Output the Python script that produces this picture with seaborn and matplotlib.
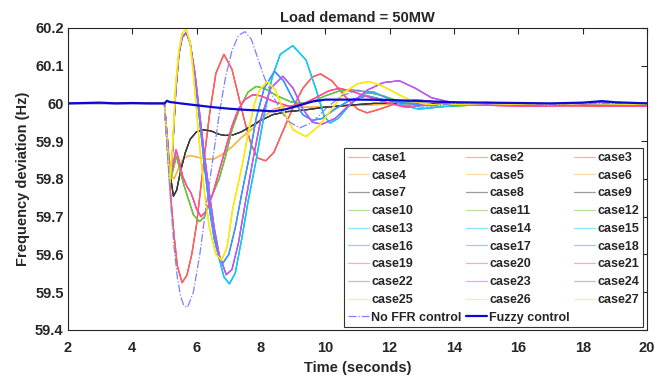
"""Frequency response after a 50 MW load step: 27 FFR cases vs. no FFR vs. fuzzy control.

Curves are read off the reference figure (group of 3 cases share one trace).
"""
import matplotlib
matplotlib.use("Agg")
import matplotlib.pyplot as plt
import seaborn as sns
from matplotlib.ticker import FuncFormatter

TITLE = "Load demand = 50MW"
X_LABEL = "Time (seconds)"
Y_LABEL = "Frequency deviation (Hz)"
X_TICKS = [2, 4, 6, 8, 10, 12, 14, 16, 18, 20]
Y_TICKS = [59.4, 59.5, 59.6, 59.7, 59.8, 59.9, 60.0, 60.1, 60.2]

CASE_NAMES = [f"case{i}" for i in range(1, 28)]
GROUP_COLORS = ["#ff5f5f", "#ffb54d", "#3a3a3a", "#6cc43a", "#14c8f5",
                "#3d94ff", "#ff4aa0", "#b65cf0", "#fbe90a"]

# case1-3 (red)
RED_T = [2, 5.0, 5.1, 5.2, 5.3, 5.4, 5.55, 5.7, 5.85, 6.0, 6.2, 6.4, 6.6, 6.85, 7.1, 7.3,
         7.5, 7.7, 7.9, 8.15, 8.4, 8.7, 9.0, 9.3, 9.6, 9.85, 10.2, 10.6, 11.0, 11.3, 11.7,
         12.2, 12.8, 13.5, 14.5, 15.5, 17, 18.5, 20]
RED_F = [60.0, 60.0, 59.87, 59.75, 59.65, 59.57, 59.525, 59.545, 59.6, 59.68, 59.83, 59.97,
         60.08, 60.13, 60.09, 60.02, 59.95, 59.89, 59.855, 59.848, 59.87, 59.93, 59.99,
         60.04, 60.07, 60.078, 60.06, 60.02, 59.985, 59.975, 59.985, 60.0, 60.01, 60.003,
         59.995, 59.998, 59.995, 59.992, 59.993]
# case4-6 (orange)
ORANGE_T = [2, 5.0, 5.1, 5.2, 5.3, 5.45, 5.6, 5.78, 6.0, 6.3, 6.55, 6.8, 7.1, 7.4, 7.7,
            8.0, 8.4, 8.8, 9.3, 10, 11, 12, 13, 15, 17, 20]
ORANGE_F = [60.0, 60.0, 59.88, 59.81, 59.8, 59.83, 59.855, 59.862, 59.858, 59.852, 59.853,
            59.865, 59.885, 59.91, 59.93, 59.96, 59.985, 59.993, 59.99, 59.99, 59.995,
            59.998, 60.0, 59.998, 59.997, 59.998]
# case7-9 (black)
BLACK_T = [2, 5.0, 5.1, 5.2, 5.28, 5.38, 5.5, 5.65, 5.8, 6.0, 6.2, 6.45, 6.7, 6.9, 7.15,
           7.4, 7.7, 8.0, 8.36, 8.8, 9.4, 10, 10.7, 11.5, 12.5, 14, 16, 18, 20]
BLACK_F = [60.0, 60.0, 59.88, 59.8, 59.754, 59.77, 59.82, 59.87, 59.905, 59.925, 59.93,
           59.927, 59.918, 59.915, 59.917, 59.925, 59.94, 59.955, 59.97, 59.978, 59.983,
           59.99, 59.995, 60.0, 60.0, 59.998, 59.998, 59.997, 59.998]
# case10-12 (green)
GREEN_T = [2, 5.0, 5.1, 5.2, 5.3, 5.37, 5.45, 5.6, 5.75, 5.9, 6.09, 6.25, 6.45, 6.7, 6.9,
           7.1, 7.35, 7.6, 7.85, 8.1, 8.5, 8.9, 9.2, 9.6, 10.0, 10.4, 10.8, 11.3, 11.8,
           12.3, 13, 14, 15, 16.5, 18, 20]
GREEN_F = [60.0, 60.0, 59.9, 59.8, 59.835, 59.86, 59.835, 59.785, 59.745, 59.705, 59.687,
           59.7, 59.75, 59.8, 59.86, 59.93, 59.99, 60.03, 60.045, 60.04, 60.02, 60.005,
           60.0, 60.005, 60.02, 60.032, 60.036, 60.03, 60.02, 60.005, 59.995, 59.993,
           59.997, 59.995, 59.997, 59.995]
# case13-15 (cyan)
CYAN_T = [2, 5.0, 5.08, 5.17, 5.25, 5.35, 5.45, 5.55, 5.68, 5.8, 5.95, 6.1, 6.25, 6.4,
          6.55, 6.7, 6.85, 7.02, 7.2, 7.4, 7.6, 7.85, 8.1, 8.35, 8.6, 8.99, 9.4, 9.7, 9.97,
          10.15, 10.4, 10.8, 11.2, 11.5, 11.9, 12.4, 12.9, 13.5, 14.5, 15.5, 17, 18.5, 20]
CYAN_F = [60.0, 60.0, 59.9, 59.8, 59.87, 60.03, 60.13, 60.175, 60.187, 60.16, 60.07,
          59.96, 59.85, 59.75, 59.66, 59.59, 59.54, 59.522, 59.55, 59.64, 59.74, 59.85,
          59.97, 60.07, 60.13, 60.153, 60.115, 60.04, 59.965, 59.948, 59.96, 60.0, 60.025,
          60.03, 60.015, 59.995, 59.985, 59.99, 59.998, 59.995, 59.998, 59.997, 59.998]
# case16-18 (blue)
BLUE_T = [2, 5.0, 5.08, 5.17, 5.25, 5.35, 5.45, 5.55, 5.68, 5.8, 5.95, 6.1, 6.25, 6.4,
          6.55, 6.7, 6.82, 7.0, 7.2, 7.4, 7.64, 7.85, 8.1, 8.42, 8.7, 9.0, 9.3, 9.6, 9.9,
          10.3, 10.8, 11.3, 11.8, 12.5, 13.5, 15, 17, 20]
BLUE_F = [60.0, 60.0, 59.9, 59.8, 59.87, 60.03, 60.13, 60.175, 60.188, 60.16, 60.07,
          59.95, 59.83, 59.72, 59.64, 59.59, 59.577, 59.6, 59.67, 59.76, 59.86, 59.96,
          60.04, 60.085, 60.06, 60.01, 59.97, 59.955, 59.96, 59.985, 60.01, 60.02, 60.01,
          60.0, 59.995, 60.0, 59.997, 60.0]
# case19-21 (pink)
PINK_T = [2, 5.0, 5.1, 5.16, 5.25, 5.36, 5.45, 5.57, 5.7, 5.83, 6.0, 6.14, 6.3, 6.5, 6.7,
          6.9, 7.1, 7.3, 7.5, 7.75, 8.0, 8.4, 8.88, 9.3, 9.7, 10.1, 10.44, 10.9, 11.4, 12,
          12.5, 13, 14, 15, 16.5, 18, 20]
PINK_F = [60.0, 60.0, 59.9, 59.81, 59.83, 59.877, 59.85, 59.806, 59.78, 59.762, 59.72,
          59.7, 59.715, 59.76, 59.82, 59.88, 59.94, 59.985, 60.01, 60.023, 60.02, 60.005,
          59.992, 59.998, 60.015, 60.033, 60.04, 60.03, 60.015, 60.0, 59.99, 59.995, 60.0,
          59.995, 59.992, 59.995, 59.993]
# case22-24 (purple)
PURPLE_T = [2, 5.0, 5.08, 5.17, 5.25, 5.35, 5.45, 5.55, 5.68, 5.8, 5.95, 6.1, 6.25, 6.4,
            6.55, 6.7, 6.92, 7.1, 7.3, 7.5, 7.75, 8.0, 8.3, 8.68, 9.0, 9.3, 9.6, 9.9, 10.3,
            10.8, 11.3, 11.8, 12.3, 12.8, 13.3, 13.8, 14.5, 15.5, 17, 18.5, 20]
PURPLE_F = [60.0, 60.0, 59.9, 59.8, 59.87, 60.03, 60.13, 60.175, 60.186, 60.16, 60.08,
            59.97, 59.86, 59.76, 59.67, 59.6, 59.546, 59.56, 59.63, 59.73, 59.85, 59.96,
            60.04, 60.072, 60.04, 59.985, 59.95, 59.945, 59.96, 60.0, 60.035, 60.055, 60.06,
            60.04, 60.015, 60.005, 59.998, 59.995, 59.996, 60.002, 60.0]
# case25-27 (yellow)
YELLOW_T = [2, 5.0, 5.08, 5.17, 5.25, 5.35, 5.45, 5.55, 5.68, 5.8, 5.9, 6.0, 6.1, 6.25,
            6.4, 6.6, 6.78, 6.95, 7.12, 7.3, 7.45, 7.6, 7.8, 7.95, 8.2, 8.45, 8.7, 9.0, 9.4,
            9.8, 10.2, 10.6, 11.0, 11.37, 11.8, 12.2, 12.6, 13.0, 13.5, 14, 15, 16, 17, 18, 20]
YELLOW_F = [60.0, 60.0, 59.9, 59.79, 59.88, 60.05, 60.14, 60.185, 60.197, 60.16, 60.08,
            59.98, 59.88, 59.76, 59.67, 59.6, 59.585, 59.62, 59.72, 59.79, 59.85, 59.92,
            60.0, 60.035, 60.058, 60.035, 59.98, 59.93, 59.912, 59.94, 59.985, 60.03, 60.052,
            60.058, 60.045, 60.027, 60.01, 60.0, 59.995, 59.998, 60.0, 59.998, 59.997, 60.0,
            59.998]

NOFFR_T = [2, 5.0, 5.1, 5.2, 5.3, 5.4, 5.5, 5.6, 5.72, 5.9, 6.1, 6.3, 6.5, 6.7, 6.9, 7.1,
           7.3, 7.5, 7.7, 7.9, 8.1, 8.3, 8.5, 8.7, 8.9, 9.2, 9.6, 10.0, 10.5, 11.0, 11.5,
           12, 12.5, 13, 14, 15, 16, 17, 18, 20]
NOFFR_F = [60.0, 60.0, 59.86, 59.73, 59.62, 59.54, 59.49, 59.465, 59.46, 59.5, 59.6, 59.73,
           59.85, 59.97, 60.07, 60.14, 60.18, 60.19, 60.17, 60.12, 60.07, 60.03, 60.0,
           59.97, 59.95, 59.935, 59.95, 59.985, 60.02, 60.035, 60.03, 60.01, 59.995, 59.99,
           60.0, 60.003, 60.0, 59.998, 60.0, 60.0]
FUZZY_T = [2, 2.5, 3, 3.5, 4, 4.5, 5.0, 5.08, 5.15, 5.5, 6.0, 6.5, 7.0, 7.5, 8.0, 8.4, 8.8,
           9.2, 9.6, 10.0, 10.5, 11, 12, 13, 14, 15, 16, 17, 18, 18.6, 19, 20]
FUZZY_F = [60.0, 60.001, 60.002, 60.0, 60.001, 60.0, 60.0, 60.007, 60.004, 60.0, 59.995,
           59.99, 59.986, 59.983, 59.981, 59.979, 59.985, 59.995, 60.005, 60.01, 60.01,
           60.01, 60.009, 60.006, 60.003, 60.002, 60.001, 60.0, 60.002, 60.006, 60.003, 60.0]

GROUPS = [(RED_T, RED_F), (ORANGE_T, ORANGE_F), (BLACK_T, BLACK_F), (GREEN_T, GREEN_F),
          (CYAN_T, CYAN_F), (BLUE_T, BLUE_F), (PINK_T, PINK_F), (PURPLE_T, PURPLE_F),
          (YELLOW_T, YELLOW_F)]


def main():
    sns.set_style("white")
    plt.rcParams["font.family"] = ["Liberation Sans", "DejaVu Sans"]
    plt.rcParams["font.weight"] = "bold"

    fig = plt.figure(figsize=(6.72, 3.77), dpi=100)
    ax = fig.add_axes([0.101, 0.125, 0.862, 0.801])

    # 1. the 27 cases, three per trace
    for i, name in enumerate(CASE_NAMES):
        t, f = GROUPS[i // 3]
        sns.lineplot(x=t, y=f, ax=ax, color=GROUP_COLORS[i // 3], lw=0.9,
                     estimator=None, label=name, legend=False)
    sns.lineplot(x=NOFFR_T, y=NOFFR_F, ax=ax, color="#7f7fff", lw=0.9, ls="-.",
                 estimator=None, label="No FFR control", legend=False)
    sns.lineplot(x=FUZZY_T, y=FUZZY_F, ax=ax, color="#0a0ad8", lw=1.6,
                 estimator=None, label="Fuzzy control", legend=False)

    # 2. axes, MATLAB look
    ax.set_xlim(2, 20)
    ax.set_ylim(59.4, 60.2)
    ax.set_xticks(X_TICKS)
    ax.set_yticks(Y_TICKS)
    ax.yaxis.set_major_formatter(FuncFormatter(lambda v, _: f"{v:g}"))
    ax.tick_params(direction="in", length=4, width=0.8, top=True, right=True,
                   labelsize=10.5, colors="#262626")
    ax.tick_params(axis="x", pad=8)
    ax.tick_params(axis="y", pad=3)
    for lbl in ax.get_xticklabels() + ax.get_yticklabels():
        lbl.set_fontweight("bold")
    for s in ax.spines.values():
        s.set_color("#262626")
        s.set_linewidth(0.8)
    ax.set_title(TITLE, fontsize=10.5, fontweight="bold", pad=4)
    ax.set_xlabel(X_LABEL, fontsize=10.5, fontweight="bold", labelpad=4)
    ax.set_ylabel(Y_LABEL, fontsize=10.5, fontweight="bold", labelpad=4)

    # 3. legend filled row-wise like MATLAB (matplotlib fills by column)
    handles, labels = ax.get_legend_handles_labels()
    order = [i for c in range(3) for i in range(c, len(handles), 3)]
    leg = ax.legend([handles[i] for i in order], [labels[i] for i in order], ncol=3,
                    loc="lower right", bbox_to_anchor=(0.993, 0.008), fontsize=9,
                    handlelength=1.7, handletextpad=0.2, columnspacing=0.3,
                    labelspacing=0.46, borderpad=0.3, borderaxespad=0.0,
                    fancybox=False, framealpha=1, edgecolor="#333333")
    leg.get_frame().set_linewidth(0.8)
    for txt in leg.get_texts():
        txt.set_fontweight("bold")
    # case handles look washed out in the original
    for line, lab in zip(leg.get_lines(), [labels[i] for i in order]):
        if lab.startswith("case"):
            line.set_alpha(0.5)

    fig.savefig("out.png", dpi=100)
    plt.close(fig)


if __name__ == "__main__":
    main()
